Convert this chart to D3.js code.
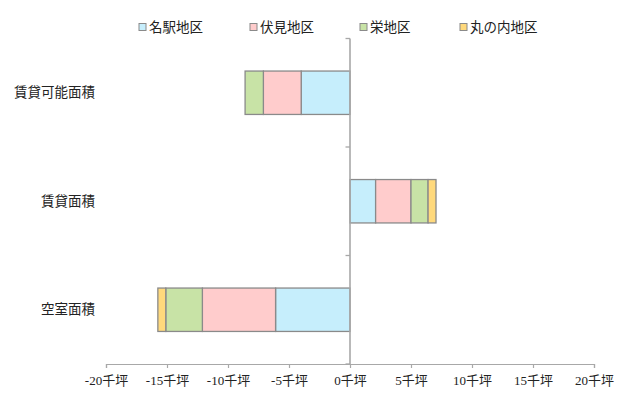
<!DOCTYPE html>
<html>
<head>
<meta charset="utf-8">
<script src="https://cdn.jsdelivr.net/npm/d3@7"></script>
<style>
  html, body { margin: 0; padding: 0; background: #fff; }
  svg { display: block; }
</style>
</head>
<body>
<svg id="chart" width="624" height="394"></svg>
<script>
// Floor areas by district (千坪); negative values are drawn to the left of zero
const categories = ["賃貸可能面積", "賃貸面積", "空室面積"];
const districts = ["名駅地区", "伏見地区", "栄地区", "丸の内地区"];
const meiekiValues = [-4.0, 2.1, -6.1];
const fushimiValues = [-3.1, 2.9, -6.0];
const sakaeValues = [-1.5, 1.4, -3.0];
const marunouchiValues = [0, 0.65, -0.65];
const tickValues = [-20, -15, -10, -5, 0, 5, 10, 15, 20];
const tickUnit = "千坪";

const colors = ["#c6eefc", "#ffcccc", "#c8e3a6", "#ffd97c"];

const rows = categories.map((c, i) => ({
  category: c,
  "名駅地区": meiekiValues[i],
  "伏見地区": fushimiValues[i],
  "栄地区": sakaeValues[i],
  "丸の内地区": marunouchiValues[i]
}));

const svg = d3.select("#chart");
const margin = { left: 106, right: 30, top: 38.5, bottom: 30 };
const W = 624, H = 394;
const plotBottom = 364;

const x = d3.scaleLinear().domain([-20, 20]).range([106, 594]);
const y = d3.scaleBand().domain(categories).range([margin.top, plotBottom]).paddingInner(0.6).paddingOuter(0.3);
const yBand = d3.scaleBand().domain(categories).range([margin.top, plotBottom]);

const stack = d3.stack().keys(districts).offset(d3.stackOffsetDiverging);
const series = stack(rows);

const cjk = "'Noto Sans CJK JP', 'Noto Sans', sans-serif";

// bars
const g = svg.append("g");
series.forEach((s, si) => {
  g.selectAll(null)
    .data(s.filter(d => d[1] - d[0] !== 0))
    .join("rect")
    .attr("x", d => x(Math.min(d[0], d[1])))
    .attr("width", d => Math.abs(x(d[1]) - x(d[0])))
    .attr("y", d => y(d.data.category))
    .attr("height", y.bandwidth())
    .attr("fill", colors[si])
    .attr("stroke", "#8a8a8a")
    .attr("stroke-width", 1.3);
});

// bottom axis
const xAxis = d3.axisBottom(x)
  .tickValues(tickValues)
  .tickSize(4)
  .tickFormat(d => d + tickUnit);
const gx = svg.append("g")
  .attr("transform", `translate(0,${plotBottom})`)
  .call(xAxis);
gx.select(".domain").attr("stroke", "#a8a8a8").attr("stroke-width", 1.2);
gx.selectAll(".tick line").attr("stroke", "#a8a8a8").attr("stroke-width", 1.2);
gx.selectAll(".tick text")
  .attr("y", 12)
  .attr("fill", "#222")
  .style("font-family", "'Liberation Serif', 'Noto Sans CJK JP', serif")
  .style("font-size", "13px");

// vertical zero axis with band boundary ticks
svg.append("line")
  .attr("x1", x(0)).attr("x2", x(0))
  .attr("y1", margin.top).attr("y2", plotBottom)
  .attr("stroke", "#a8a8a8").attr("stroke-width", 1.6);
const bounds = categories.map(c => yBand(c)).concat([plotBottom]);
svg.selectAll(null)
  .data(bounds)
  .join("line")
  .attr("x1", x(0) - 4.5).attr("x2", x(0))
  .attr("y1", d => d).attr("y2", d => d)
  .attr("stroke", "#a8a8a8").attr("stroke-width", 1.3);

// category labels
svg.selectAll(null)
  .data(categories)
  .join("text")
  .attr("x", 95)
  .attr("y", d => yBand(d) + yBand.bandwidth() / 2)
  .attr("dy", "0.35em")
  .attr("text-anchor", "end")
  .attr("fill", "#222")
  .style("font-family", cjk)
  .style("font-size", "13.5px")
  .text(d => d);

// legend
const legendX = [142, 253, 363, 463];
const legend = svg.selectAll(null)
  .data(districts)
  .join("g")
  .attr("transform", (d, i) => `translate(${legendX[i]},27)`);
legend.append("rect")
  .attr("x", -3).attr("y", -3.5)
  .attr("width", 7).attr("height", 7)
  .attr("fill", (d, i) => colors[i])
  .attr("stroke", "#8a8a8a")
  .attr("stroke-width", 1);
legend.append("text")
  .attr("x", 7)
  .attr("dy", "0.36em")
  .attr("fill", "#222")
  .style("font-family", cjk)
  .style("font-size", "13.5px")
  .text(d => d);
</script>
</body>
</html>
